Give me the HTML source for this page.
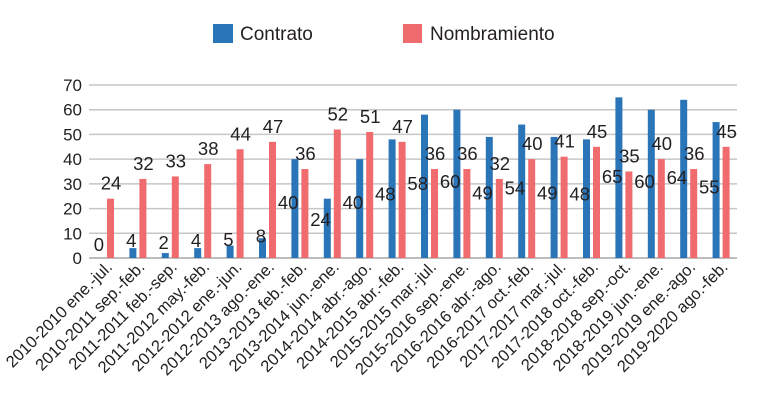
<!DOCTYPE html>
<html><head><meta charset="utf-8"><style>
body{margin:0;background:#fff;}
svg text{font-family:"Liberation Sans",sans-serif;fill:#231f20;}
</style></head><body>
<svg id="chart" width="763" height="412" viewBox="0 0 763 412" xmlns="http://www.w3.org/2000/svg">
<g>
<rect x="213" y="24" width="20" height="19" fill="#2a74b8"/>
<text x="240" y="40" font-size="19">Contrato</text>
<rect x="403" y="24" width="19" height="19" fill="#ef6b6e"/>
<text x="430" y="40" font-size="19">Nombramiento</text>
</g>
<g id="grid"></g><g id="bars"></g><g id="labels"></g>
</svg>
<script>
const categories=["2010-2010 ene.-jul.","2010-2011 sep.-feb.","2011-2011 feb.-sep.","2011-2012 may.-feb.","2012-2012 ene.-jun.","2012-2013 ago.-ene.","2013-2013 feb.-feb.","2013-2014 jun.-ene.","2014-2014 abr.-ago.","2014-2015 abr.-feb.","2015-2015 mar.-jul.","2015-2016 sep.-ene.","2016-2016 abr.-ago.","2016-2017 oct.-feb.","2017-2017 mar.-jul.","2017-2018 oct.-feb.","2018-2018 sep.-oct.","2018-2019 jun.-ene.","2019-2019 ene.-ago.","2019-2020 ago.-feb."];
const contrato=[0,4,2,4,5,8,40,24,40,48,58,60,49,54,49,48,65,60,64,55];
const nombramiento=[24,32,33,38,44,47,36,52,51,47,36,36,32,40,41,45,35,40,36,45];
const yTicks=[0,10,20,30,40,50,60,70];
const NS="http://www.w3.org/2000/svg";
const x0=89,x1=737,y0=258,y1=85,yMax=70;
const band=(x1-x0)/categories.length;
const y=v=>y0-(v/yMax)*(y0-y1);
const bx=i=>x0+i*band;
function mk(tag,attrs,parent,txt){const e=document.createElementNS(NS,tag);for(const k in attrs)e.setAttribute(k,attrs[k]);if(txt!==undefined)e.textContent=txt;document.getElementById(parent).appendChild(e);return e;}
yTicks.forEach(t=>{
  const l=mk('line',{x1:x0,x2:x1,y1:y(t),y2:y(t),stroke:'#c6c6c6','stroke-width':1.5},'grid');
  
  
  const tx=mk('text',{x:82,y:y(t)+6,'text-anchor':'end','font-size':17},'grid',String(t));
  
  
});
categories.forEach((c,i)=>{
  const b=bx(i)+8;
  const r1=mk('rect',{x:b,y:y(contrato[i]),width:7,height:y0-y(contrato[i]),fill:'#2a74b8'},'bars');
  
  
  const r2=mk('rect',{x:b+10,y:y(nombramiento[i]),width:7,height:y0-y(nombramiento[i]),fill:'#ef6b6e'},'bars');
  
  
  const t1=mk('text',{x:b+7,y:251-1.05*contrato[i],'text-anchor':'end','font-size':18.5},'labels',String(contrato[i]));
  
  
  const t2=mk('text',{x:b+14,y:y(nombramiento[i])-9,'text-anchor':'middle','font-size':18.5},'labels',String(nombramiento[i]));
  
  
  const cx=bx(i)+band/2+8;
  const xl=mk('text',{x:cx,y:268,'text-anchor':'end','font-size':16.5,transform:`rotate(-45 ${cx} 268)`},'labels',c);
  
  
});
const ax=mk('line',{x1:x0,x2:x1,y1:y0,y2:y0,stroke:'#bdbdbd','stroke-width':2},'grid');


</script>
</body></html>
